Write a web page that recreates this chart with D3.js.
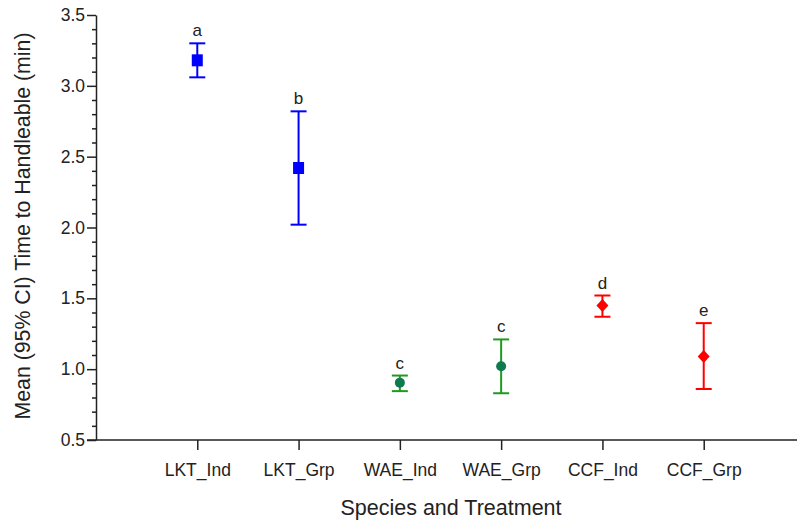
<!DOCTYPE html>
<html>
<head>
<meta charset="utf-8">
<script src="https://cdn.jsdelivr.net/npm/d3@7"></script>
<style>
  html, body { margin: 0; padding: 0; background: #fff; }
  svg { display: block; }
  text { font-family: "Liberation Sans", Arial, sans-serif; }
</style>
</head>
<body>
<svg id="chart" width="797" height="522"></svg>
<script>
// ---- data ----
const categories = ["LKT_Ind", "LKT_Grp", "WAE_Ind", "WAE_Grp", "CCF_Ind", "CCF_Grp"];
const means      = [3.18, 2.42, 0.905, 1.02, 1.45, 1.09];
const ciLower    = [3.06, 2.02, 0.845, 0.83, 1.37, 0.86];
const ciUpper    = [3.30, 2.82, 0.955, 1.21, 1.52, 1.325];
const groupLetters = ["a", "b", "c", "c", "d", "e"];
const species    = ["LKT", "LKT", "WAE", "WAE", "CCF", "CCF"];
const yMajorTicks = [0.5, 1.0, 1.5, 2.0, 2.5, 3.0, 3.5];
const yLabel = "Mean (95% CI) Time to Handleable (min)";
const xLabel = "Species and Treatment";

// ---- styles ----
const barColor    = { LKT: "#0000ff", WAE: "#1f9a1f", CCF: "#ff0000" };
const markerColor = { LKT: "#0000ff", WAE: "#0e7a4e", CCF: "#ff0000" };
const markerShape = { LKT: "square", WAE: "circle", CCF: "diamond" };

const svg = d3.select("#chart");

const x = d3.scalePoint().domain(categories).range([96, 805]).padding(1);
const y = d3.scaleLinear().domain([0.5, 3.5]).range([440, 15]);

const axisColor = "#222";

// minor y ticks
const minorTicks = d3.range(5, 36).map(v => v / 10).filter(v => !yMajorTicks.some(m => Math.abs(m - v) < 1e-9));
const yMinor = svg.append("g").attr("transform", "translate(96,0)")
  .call(d3.axisLeft(y).tickValues(minorTicks).tickSize(4).tickFormat(""));
yMinor.select(".domain").remove();
yMinor.selectAll("line").attr("stroke", axisColor).attr("stroke-width", 1.5);

// major y ticks
const yAxis = svg.append("g").attr("transform", "translate(96,0)")
  .call(d3.axisLeft(y).tickValues(yMajorTicks).tickSize(9).tickSizeOuter(0).tickPadding(2).tickFormat(d3.format(".1f")));
yAxis.select(".domain").attr("stroke", axisColor).attr("stroke-width", 1.5);
yAxis.selectAll("line").attr("stroke", axisColor).attr("stroke-width", 1.5);
yAxis.selectAll("text")
  .attr("font-family", "Liberation Sans, Arial, sans-serif")
  .attr("font-size", 17.5).attr("fill", "#222");

// x axis
const xAxis = svg.append("g").attr("transform", "translate(0,440)")
  .call(d3.axisBottom(x).tickSize(10).tickSizeOuter(0).tickPadding(0));
xAxis.select(".domain").remove();
xAxis.selectAll("line").attr("stroke", axisColor).attr("stroke-width", 1.5);
xAxis.selectAll("text")
  .attr("font-family", "Liberation Sans, Arial, sans-serif")
  .attr("font-size", 17.5).attr("fill", "#222")
  .attr("y", 36).attr("dy", 0);
svg.append("line")
  .attr("x1", 87).attr("x2", 797).attr("y1", y(0.5)).attr("y2", y(0.5))
  .attr("stroke", axisColor).attr("stroke-width", 1.5);

// axis labels
svg.append("text")
  .attr("x", (340 + 562) / 2).attr("y", 515)
  .attr("text-anchor", "middle").attr("font-size", 21.5).attr("fill", "#222")
  .text(xLabel);
svg.append("text")
  .attr("transform", `translate(30,${226}) rotate(-90)`)
  .attr("text-anchor", "middle").attr("font-size", 21.3).attr("fill", "#222")
  .text(yLabel);

// error bars
const data = categories.map((c, i) => ({
  cat: c, mean: means[i], lo: ciLower[i], hi: ciUpper[i], letter: groupLetters[i], sp: species[i]
}));
const capW = 8;
const g = svg.append("g");
data.forEach(d => {
  const cx = x(d.cat);
  const col = barColor[d.sp];
  g.append("line").attr("x1", cx).attr("x2", cx).attr("y1", y(d.lo)).attr("y2", y(d.hi))
    .attr("stroke", col).attr("stroke-width", 2);
  [d.lo, d.hi].forEach(v => {
    g.append("line").attr("x1", cx - capW).attr("x2", cx + capW).attr("y1", y(v)).attr("y2", y(v))
      .attr("stroke", col).attr("stroke-width", 2);
  });
  const mc = markerColor[d.sp];
  const my = y(d.mean);
  const shape = markerShape[d.sp];
  if (shape === "square") {
    g.append("rect").attr("x", cx - 5.5).attr("y", my - 6).attr("width", 11).attr("height", 12).attr("fill", mc);
  } else if (shape === "circle") {
    g.append("circle").attr("cx", cx).attr("cy", my).attr("r", 5).attr("fill", mc);
  } else {
    g.append("path").attr("d", `M${cx},${my - 6.5}L${cx + 6},${my}L${cx},${my + 6.5}L${cx - 6},${my}Z`).attr("fill", mc);
  }
  g.append("text").attr("x", cx).attr("y", y(d.hi) - 7)
    .attr("text-anchor", "middle").attr("font-size", 17).attr("fill", "#222")
    .text(d.letter);
});
</script>
</body>
</html>
